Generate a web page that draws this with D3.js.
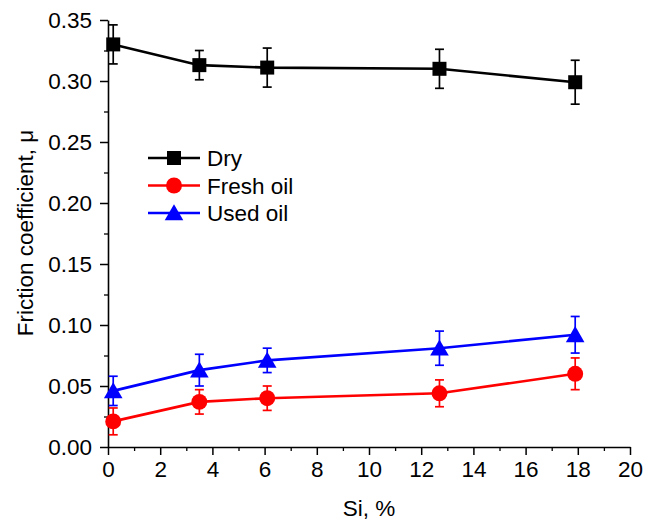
<!DOCTYPE html>
<html>
<head>
<meta charset="utf-8">
<script src="https://cdn.jsdelivr.net/npm/d3@7"></script>
<style>
  body { margin: 0; background: #fff; }
  svg { font-family: "Liberation Sans", Arial, sans-serif; }
</style>
</head>
<body>
<svg></svg>
<script>
let width = 659
let height = 522
let margin = { left: 108, right: 29, top: 20, bottom: 75 }
let fontSize = '22.5px'

// Si content, %
let siValues = [0.2, 3.5, 6.1, 12.7, 17.9]

// friction coefficient and error bar half-widths
let dryValues = [0.330, 0.313, 0.311, 0.310, 0.299]
let dryErrors = [0.016, 0.012, 0.016, 0.016, 0.018]
let freshValues = [0.021, 0.037, 0.040, 0.044, 0.060]
let freshErrors = [0.011, 0.010, 0.010, 0.011, 0.013]
let usedValues = [0.046, 0.063, 0.071, 0.081, 0.092]
let usedErrors = [0.012, 0.013, 0.010, 0.014, 0.015]

let seriesNames = ['Dry', 'Fresh oil', 'Used oil']
let seriesColors = ['#000000', '#ff0000', '#0000ff']

let xTicks = [0, 2, 4, 6, 8, 10, 12, 14, 16, 18, 20]
let yTicks = [0.00, 0.05, 0.10, 0.15, 0.20, 0.25, 0.30, 0.35]

let series = [
  { name: seriesNames[0], color: seriesColors[0], symbol: d3.symbolSquare, size: 196, values: dryValues, errors: dryErrors },
  { name: seriesNames[1], color: seriesColors[1], symbol: d3.symbolCircle, size: 200, values: freshValues, errors: freshErrors },
  { name: seriesNames[2], color: seriesColors[2], symbol: d3.symbolTriangle, size: 150, values: usedValues, errors: usedErrors }
]

let xScale = d3.scaleLinear()
  .domain([0, 20])
  .range([margin.left, width - margin.right])

let yScale = d3.scaleLinear()
  .domain([0, 0.35])
  .range([height - margin.bottom, margin.top])

let svg = d3.select('svg')
  .attr('width', width)
  .attr('height', height)

// minor ticks
svg.append('g')
  .attr('transform', `translate(0, ${height - margin.bottom})`)
  .call(d3.axisBottom(xScale).tickValues(d3.range(1, 20, 2)).tickSize(4).tickFormat(''))
  .call(g => g.select('.domain').remove())
  .selectAll('line').attr('stroke-width', 1.3)

svg.append('g')
  .attr('transform', `translate(${margin.left}, 0)`)
  .call(d3.axisLeft(yScale).tickValues(d3.range(0.025, 0.35, 0.05)).tickSize(4).tickFormat(''))
  .call(g => g.select('.domain').remove())
  .selectAll('line').attr('stroke-width', 1.3)

// main axes
let xAxis = svg.append('g')
  .attr('transform', `translate(0, ${height - margin.bottom})`)
  .call(d3.axisBottom(xScale).tickValues(xTicks).tickSize(8).tickSizeOuter(0).tickPadding(6).tickFormat(d3.format('d')))

let yAxis = svg.append('g')
  .attr('transform', `translate(${margin.left}, 0)`)
  .call(d3.axisLeft(yScale).tickValues(yTicks).tickSize(8).tickSizeOuter(0).tickPadding(8).tickFormat(d3.format('.2f')))

for (let ax of [xAxis, yAxis]) {
  ax.select('.domain').attr('stroke-width', 1.6)
  ax.selectAll('.tick line').attr('stroke-width', 1.5)
  ax.selectAll('.tick text')
    .attr('fill', '#000')
    .style('font-size', fontSize)
    .style('font-family', '"Liberation Sans", Arial, sans-serif')
}

let line = d3.line()
  .x(d => xScale(d.x))
  .y(d => yScale(d.y))

series.forEach(s => {
  let pts = siValues.map((x, i) => ({ x: x, y: s.values[i], e: s.errors[i] }))
  let g = svg.append('g')

  g.append('path')
    .datum(pts)
    .attr('fill', 'none')
    .attr('stroke', s.color)
    .attr('stroke-width', 2.6)
    .attr('d', line)

  // error bars
  let eb = g.selectAll('.err')
    .data(pts)
    .enter()
    .append('g')
    .attr('stroke', s.color)
    .attr('stroke-width', 1.7)

  eb.append('line')
    .attr('x1', d => xScale(d.x))
    .attr('x2', d => xScale(d.x))
    .attr('y1', d => yScale(d.y - d.e))
    .attr('y2', d => yScale(d.y + d.e))
  eb.append('line')
    .attr('x1', d => xScale(d.x) - 4.5)
    .attr('x2', d => xScale(d.x) + 4.5)
    .attr('y1', d => yScale(d.y + d.e))
    .attr('y2', d => yScale(d.y + d.e))
  eb.append('line')
    .attr('x1', d => xScale(d.x) - 4.5)
    .attr('x2', d => xScale(d.x) + 4.5)
    .attr('y1', d => yScale(d.y - d.e))
    .attr('y2', d => yScale(d.y - d.e))

  g.selectAll('.mark')
    .data(pts)
    .enter()
    .append('path')
    .attr('d', d3.symbol().type(s.symbol).size(s.size))
    .attr('transform', d => `translate(${xScale(d.x)}, ${yScale(d.y) + (s.symbol === d3.symbolTriangle ? 2 : 0)})`)
    .attr('fill', s.color)
})

// legend
let legend = svg.append('g')
  .attr('transform', 'translate(148, 158)')

series.forEach((s, i) => {
  let row = legend.append('g')
    .attr('transform', `translate(0, ${i * 27.5})`)
  row.append('line')
    .attr('x1', 0)
    .attr('x2', 52)
    .attr('stroke', s.color)
    .attr('stroke-width', 2.6)
  row.append('path')
    .attr('d', d3.symbol().type(s.symbol).size(s.size))
    .attr('transform', `translate(26, ${s.symbol === d3.symbolTriangle ? 2 : 0})`)
    .attr('fill', s.color)
  row.append('text')
    .attr('x', 59)
    .attr('y', 8)
    .style('font-size', fontSize)
    .text(s.name)
})

// x-axis label
svg.append('text')
  .attr('x', 369)
  .attr('y', 516)
  .style('text-anchor', 'middle')
  .style('font-size', fontSize)
  .text('Si, %')

// y-axis label
svg.append('text')
  .attr('transform', 'rotate(-90)')
  .attr('x', -233)
  .attr('y', 33)
  .style('text-anchor', 'middle')
  .style('font-size', fontSize)
  .text('Friction coefficient, μ')
</script>
</body>
</html>
